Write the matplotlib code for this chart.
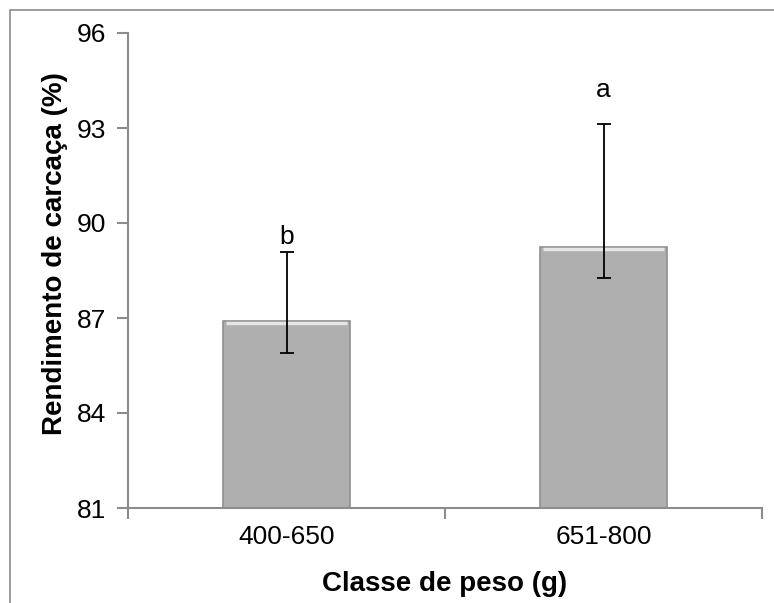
import matplotlib.pyplot as plt
import matplotlib.patches as mpatches
import numpy as np

plt.rcParams['font.family'] = ['Liberation Sans', 'DejaVu Sans']

classes = ['400-650', '651-800']
rendimento = [86.9, 89.25]
err_low = [1.0, 1.0]
err_high = [2.18, 3.87]
letters = ['b', 'a']
letter_y = [89.55, 94.2]

fig = plt.figure(figsize=(7.74, 6.03), dpi=100)
ax = fig.add_axes([128 / 774, 1 - 508 / 603, 634 / 774, 475 / 603])

# chart border (Excel-style frame)
frame = mpatches.Rectangle((10 / 774, -0.1), 1.2, 1.1 - 10 / 603, transform=fig.transFigure,
                           fill=False, edgecolor='#8c8c8c', linewidth=1.2, clip_on=False)
fig.patches.append(frame)

x = np.arange(len(classes))
ax.bar(x, [r - 81 for r in rendimento], bottom=81, width=0.4, color='#afafaf',
       edgecolor='#8f8f8f', linewidth=1.2, zorder=2)
# light top edge to mimic the bevel
for xi, r in zip(x, rendimento):
    ax.plot([xi - 0.19, xi + 0.19], [r - 0.06, r - 0.06], color='#e6e6e6', lw=2.5, zorder=3,
            solid_capstyle='butt')
ax.errorbar(x, rendimento, yerr=[err_low, err_high], fmt='none', ecolor='black',
            elinewidth=1.3, capsize=5, capthick=1.3, zorder=4)

for xi, lab, ly in zip(x, letters, letter_y):
    ax.text(xi, ly, lab, ha='center', va='center', fontsize=19)

ax.set_xlim(-0.5, 1.5)
ax.set_ylim(81, 96)
ax.set_yticks([81, 84, 87, 90, 93, 96])
ax.set_xticks(x)
ax.set_xticklabels(classes)
ax.set_xticks([-0.5, 0.5, 1.5], minor=True)
ax.tick_params(axis='x', which='major', length=0, labelsize=19, pad=12)
ax.tick_params(axis='x', which='minor', length=8, width=1.5, color='#8c8c8c')
ax.tick_params(axis='y', length=8, width=1.5, color='#8c8c8c', labelsize=19, pad=8)

for s in ['top', 'right']:
    ax.spines[s].set_visible(False)
for s in ['left', 'bottom']:
    ax.spines[s].set_color('#8c8c8c')
    ax.spines[s].set_linewidth(1.5)

ax.set_xlabel('Classe de peso (g)', fontsize=20, fontweight='bold', labelpad=16)
ax.set_ylabel('Rendimento de carcaça (%)', fontsize=20, fontweight='bold')
ax.yaxis.set_label_coords(-0.094, 0.535)

fig.savefig('out.png', dpi=100)
